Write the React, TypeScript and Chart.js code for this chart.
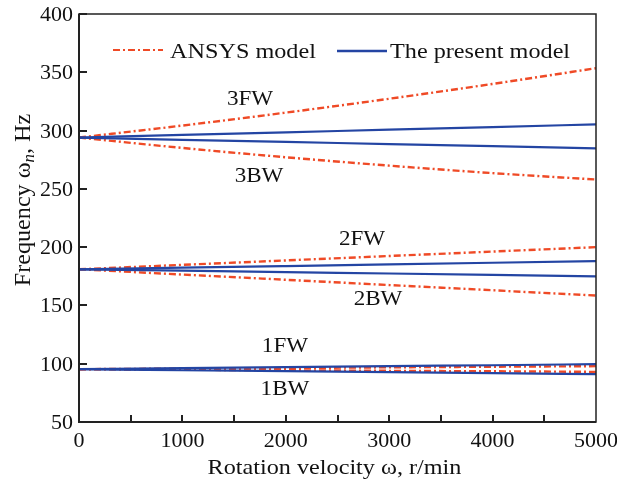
import React, { useEffect, useRef } from "react";
import { Chart, registerables } from "chart.js";

Chart.register(...registerables);

// Rotation velocity, r/min
const speeds = [0, 1000, 2000, 3000, 4000, 5000];

// ANSYS model (dash-dot, red)
const ansys3FW = [294, 304.3, 315.4, 327.3, 340.0, 353.5];
const ansys3BW = [294, 285.1, 277.1, 269.9, 263.5, 258.0];
const ansys2FW = [181, 184.8, 188.6, 192.4, 196.2, 200.0];
const ansys2BW = [181, 176.5, 172.0, 167.5, 163.0, 158.5];
const ansys1FW = [95.3, 95.8, 96.3, 96.9, 97.4, 97.9];
const ansys1BW = [95.3, 94.8, 94.4, 93.9, 93.5, 93.0];

// The present model (solid, blue)
const present3FW = [294, 296.3, 298.5, 300.8, 303.0, 305.3];
const present3BW = [294, 292.1, 290.3, 288.4, 286.6, 284.7];
const present2FW = [181, 182.4, 183.8, 185.2, 186.6, 188.0];
const present2BW = [181, 179.8, 178.6, 177.4, 176.2, 175.0];
const present1FW = [95.3, 96.2, 97.0, 97.9, 98.7, 99.6];
const present1BW = [95.3, 94.4, 93.6, 92.7, 91.9, 91.0];

const yTicks = [50, 100, 150, 200, 250, 300, 350, 400];
const xTickLabels = [0, 1000, 2000, 3000, 4000, 5000];
const xMinorTicks = [500, 1000, 1500, 2000, 2500, 3000, 3500, 4000, 4500];

const modeLabels = [
  { text: "3FW", x: 1654, y: 327 },
  { text: "3BW", x: 1741, y: 261 },
  { text: "2FW", x: 2737, y: 207 },
  { text: "2BW", x: 2892, y: 155.4 },
  { text: "1FW", x: 1992, y: 115 },
  { text: "1BW", x: 1992, y: 78 },
];

const legendLabels = ["ANSYS model", "The present model"];

const RED = "#ef4a26";
const BLUE = "#2445a3";
const DASH = [7, 3, 2, 3];
const SERIF = '"Liberation Serif", "DejaVu Serif", "Times New Roman", serif';

function toPts(ys: number[]) {
  return speeds.map((x, i) => ({ x, y: ys[i] }));
}

function drawText(
  ctx: CanvasRenderingContext2D,
  s: string,
  x: number,
  y: number,
  align: "left" | "center" | "right",
  font: string,
  sx = 1.1,
  baseline: CanvasTextBaseline = "alphabetic"
) {
  ctx.save();
  ctx.font = font;
  ctx.textBaseline = baseline;
  ctx.textAlign = "left";
  const w = ctx.measureText(s).width * sx;
  const left = align === "center" ? x - w / 2 : align === "right" ? x - w : x;
  ctx.translate(left, y);
  ctx.scale(sx, 1);
  ctx.fillText(s, 0, 0);
  ctx.restore();
}

const decorPlugin = {
  id: "decor",
  afterDraw(chart: any) {
    const ctx: CanvasRenderingContext2D = chart.ctx;
    const xs = chart.scales.x;
    const ys = chart.scales.y;
    const a = chart.chartArea;
    ctx.save();
    ctx.fillStyle = "#111";
    ctx.strokeStyle = "#222";

    // frame
    ctx.lineWidth = 1.5;
    ctx.strokeRect(a.left, a.top, a.right - a.left, a.bottom - a.top);
    ctx.lineWidth = 2;
    ctx.beginPath();
    ctx.moveTo(a.left, a.top);
    ctx.lineTo(a.left, a.bottom);
    ctx.lineTo(a.right, a.bottom);
    ctx.stroke();

    // inward ticks
    ctx.lineWidth = 2;
    ctx.beginPath();
    yTicks.forEach((v) => {
      const p = Math.round(ys.getPixelForValue(v));
      ctx.moveTo(a.left, p);
      ctx.lineTo(a.left + 8, p);
    });
    xMinorTicks.forEach((v) => {
      const p = Math.round(xs.getPixelForValue(v));
      ctx.moveTo(p, a.bottom);
      ctx.lineTo(p, a.bottom - 7);
    });
    ctx.stroke();

    // tick labels
    const tickFont = `20px ${SERIF}`;
    yTicks.forEach((v) => {
      drawText(ctx, String(v), a.left - 6, ys.getPixelForValue(v) + 7, "right", tickFont, 1.1);
    });
    xTickLabels.forEach((v) => {
      drawText(ctx, String(v), xs.getPixelForValue(v), a.bottom + 25, "center", tickFont, 1.1);
    });

    // x title
    const titleFont = `22px ${SERIF}`;
    drawText(ctx, "Rotation velocity ω, r/min", (a.left + a.right) / 2 - 3, 474, "center", titleFont, 1.1);

    // y title (rotated) with italic subscript n
    ctx.save();
    ctx.translate(30, 200);
    ctx.rotate(-Math.PI / 2);
    const f1 = `23px ${SERIF}`;
    const f2 = `italic 16px ${SERIF}`;
    const sx = 1.05;
    ctx.font = f1;
    const wA = ctx.measureText("Frequency ω").width * sx;
    const wC = ctx.measureText(", Hz").width * sx;
    ctx.font = f2;
    const wB = ctx.measureText("n").width * sx;
    let cx = -(wA + wB + wC) / 2;
    drawText(ctx, "Frequency ω", cx, 0, "left", f1, sx);
    cx += wA;
    drawText(ctx, "n", cx, 4, "left", f2, sx);
    cx += wB;
    drawText(ctx, ", Hz", cx, 0, "left", f1, sx);
    ctx.restore();

    // mode labels
    const labFont = `22px ${SERIF}`;
    modeLabels.forEach((m) => {
      drawText(ctx, m.text, xs.getPixelForValue(m.x), ys.getPixelForValue(m.y), "center", labFont, 1.05, "middle");
    });

    // legend
    ctx.lineWidth = 2.2;
    ctx.strokeStyle = RED;
    ctx.setLineDash(DASH);
    ctx.beginPath();
    ctx.moveTo(113, 50);
    ctx.lineTo(163, 50);
    ctx.stroke();
    ctx.setLineDash([]);
    ctx.strokeStyle = BLUE;
    ctx.lineWidth = 2.5;
    ctx.beginPath();
    ctx.moveTo(337, 51);
    ctx.lineTo(387, 51);
    ctx.stroke();
    ctx.fillStyle = "#111";
    drawText(ctx, legendLabels[0], 170, 58, "left", `22px ${SERIF}`, 1.1);
    drawText(ctx, legendLabels[1], 390, 58, "left", `22px ${SERIF}`, 1.1);

    ctx.restore();
  },
};

export default function App() {
  const ref = useRef<HTMLCanvasElement | null>(null);

  useEffect(() => {
    if (!ref.current) return;
    const ansys = [ansys3FW, ansys3BW, ansys2FW, ansys2BW, ansys1FW, ansys1BW];
    const present = [present3FW, present3BW, present2FW, present2BW, present1FW, present1BW];
    const datasets: any[] = [];
    present.forEach((ys) =>
      datasets.push({
        data: toPts(ys),
        borderColor: BLUE,
        borderWidth: 2.2,
        pointRadius: 0,
        cubicInterpolationMode: "monotone",
        fill: false,
      })
    );
    ansys.forEach((ys) =>
      datasets.push({
        data: toPts(ys),
        borderColor: RED,
        borderWidth: 2.4,
        borderDash: DASH,
        pointRadius: 0,
        cubicInterpolationMode: "monotone",
        fill: false,
      })
    );
    const chart = new Chart(ref.current, {
      type: "line",
      data: { datasets },
      options: {
        animation: false,
        responsive: false,
        devicePixelRatio: 1,
        layout: { padding: { left: 79, right: 21, top: 14, bottom: 62 } },
        plugins: { legend: { display: false }, tooltip: { enabled: false } },
        scales: {
          x: { type: "linear", min: 0, max: 5000, display: false },
          y: { type: "linear", min: 50, max: 400, display: false },
        },
      },
      plugins: [decorPlugin],
    });
    return () => chart.destroy();
  }, []);

  return (
    <div style={{ position: "absolute", left: 0, top: 0, width: 617, height: 484, background: "#fff" }}>
      <canvas ref={ref} width={617} height={484} />
    </div>
  );
}
